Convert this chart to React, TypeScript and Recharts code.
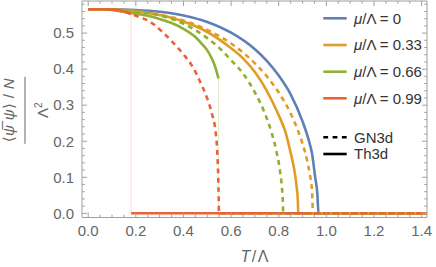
import React from "react";
import { LineChart, Line, XAxis, YAxis, Customized } from "recharts";

// ---------- data ----------
const T_BLUE = [0, 0.1, 0.2, 0.3, 0.4, 0.5, 0.6, 0.7, 0.75, 0.8, 0.85, 0.9, 0.925, 0.94, 0.953, 0.962, 0.967, 1.45];
const V_BLUE = [0.566, 0.566, 0.564, 0.559, 0.549, 0.531, 0.501, 0.455, 0.423, 0.382, 0.33, 0.255, 0.205, 0.165, 0.1, 0.055, 0, 0];

const T_ORANGE_TH = [0, 0.1, 0.2, 0.3, 0.4, 0.5, 0.6, 0.65, 0.7, 0.75, 0.8, 0.83, 0.85, 0.865, 0.875, 0.88, 0.882, 1.45];
const V_ORANGE_TH = [0.566, 0.565, 0.561, 0.55, 0.532, 0.503, 0.458, 0.43, 0.392, 0.34, 0.272, 0.222, 0.168, 0.122, 0.075, 0.038, 0, 0];

const T_ORANGE_GN = [0, 0.1, 0.2, 0.3, 0.4, 0.5, 0.6, 0.7, 0.75, 0.8, 0.85, 0.88, 0.9, 0.92, 0.93, 0.94, 0.944, 1.45];
const V_ORANGE_GN = [0.566, 0.565, 0.561, 0.551, 0.535, 0.509, 0.471, 0.416, 0.38, 0.335, 0.277, 0.231, 0.193, 0.144, 0.11, 0.06, 0, 0];

const T_GREEN_TH = [0, 0.05, 0.1, 0.15, 0.2, 0.25, 0.3, 0.35, 0.4, 0.45, 0.48, 0.5, 0.52, 0.535, 0.547];
const V_GREEN_TH = [0.566, 0.566, 0.564, 0.559, 0.554, 0.548, 0.539, 0.528, 0.512, 0.489, 0.468, 0.452, 0.428, 0.403, 0.374];
const T_GREEN_TH_JUMP = [0.547, 0.547];
const V_GREEN_TH_JUMP = [0.374, 0];
const T_GREEN_TH_LOW = [0.547, 1.45];
const V_GREEN_TH_LOW = [0, 0];

const T_GREEN_GN = [0, 0.1, 0.2, 0.3, 0.4, 0.5, 0.55, 0.6, 0.65, 0.7, 0.74, 0.77, 0.79, 0.805, 0.813, 0.817, 0.819, 1.45];
const V_GREEN_GN = [0.566, 0.565, 0.56, 0.549, 0.526, 0.486, 0.459, 0.425, 0.388, 0.335, 0.28, 0.224, 0.173, 0.119, 0.074, 0.035, 0, 0];

const T_RED_TH = [0, 0.05, 0.1, 0.13, 0.16, 0.18];
const V_RED_TH = [0.566, 0.566, 0.565, 0.563, 0.558, 0.553];
const T_RED_TH_JUMP = [0.18, 0.18];
const V_RED_TH_JUMP = [0.553, 0];
const T_RED_TH_LOW = [0.18, 1.45];
const V_RED_TH_LOW = [0, 0];

const T_RED_GN = [0, 0.05, 0.1, 0.13, 0.16, 0.18, 0.22, 0.25, 0.28, 0.31, 0.35, 0.4, 0.44, 0.47, 0.5, 0.52, 0.535, 0.542, 0.546, 0.548, 0.549, 1.45];
const V_RED_GN = [0.566, 0.566, 0.565, 0.563, 0.558, 0.553, 0.543, 0.535, 0.522, 0.504, 0.478, 0.441, 0.405, 0.365, 0.318, 0.275, 0.225, 0.17, 0.1, 0.04, 0, 0];

const MU_LABELS = ["0", "0.33", "0.66", "0.99"];
const STYLE_LABELS = ["GN3d", "Th3d"];

const X_MAJOR = [0, 0.2, 0.4, 0.6, 0.8, 1.0, 1.2, 1.4];
const X_LABELS = ["0.0", "0.2", "0.4", "0.6", "0.8", "1.0", "1.2", "1.4"];
const X_TICKS = [0, 0.05, 0.1, 0.15, 0.2, 0.25, 0.3, 0.35, 0.4, 0.45, 0.5, 0.55, 0.6, 0.65, 0.7, 0.75, 0.8, 0.85, 0.9, 0.95, 1.0, 1.05, 1.1, 1.15, 1.2, 1.25, 1.3, 1.35, 1.4];
const Y_MAJOR = [0, 0.1, 0.2, 0.3, 0.4, 0.5];
const Y_LABELS = ["0.0", "0.1", "0.2", "0.3", "0.4", "0.5"];
const Y_TICKS = [0, 0.02, 0.04, 0.06, 0.08, 0.1, 0.12, 0.14, 0.16, 0.18, 0.2, 0.22, 0.24, 0.26, 0.28, 0.3, 0.32, 0.34, 0.36, 0.38, 0.4, 0.42, 0.44, 0.46, 0.48, 0.5, 0.52, 0.54, 0.56, 0.58];

// ---------- styles ----------
const BLUE = "#5E81B5";
const ORANGE = "#E19C24";
const GREEN = "#8FB032";
const RED = "#EB6235";
const COLORS = [BLUE, ORANGE, GREEN, RED];
const FRAME = "#a0a0a0";
const LABEL = "#666666";
const FONT = "'Liberation Sans', 'DejaVu Sans', sans-serif";
const LW = 2.6;
const DASH = "5 4.3";
const MAJ = 5;
const MIN = 2.8;

const zip = (t: number[], v: number[]) => t.map((x, i) => ({ t: x, v: v[i] }));

const majorIndex = (list: number[], v: number) => list.findIndex((m) => Math.abs(m - v) < 1e-6);

const BottomTick = (p: any) => {
  const { x, y, payload } = p;
  const i = majorIndex(X_MAJOR, payload.value);
  return (
    <g>
      <line x1={x} x2={x} y1={y} y2={y - (i >= 0 ? MAJ : MIN)} stroke={FRAME} strokeWidth={1} />
      {i >= 0 && (
        <text x={x} y={y + 18.5} textAnchor="middle" fontSize={15} fontFamily={FONT} fill={LABEL}>
          {X_LABELS[i]}
        </text>
      )}
    </g>
  );
};
const TopTick = (p: any) => {
  const { x, y, payload } = p;
  const i = majorIndex(X_MAJOR, payload.value);
  return <line x1={x} x2={x} y1={y} y2={y + (i >= 0 ? MAJ : MIN)} stroke={FRAME} strokeWidth={1} />;
};
const LeftTick = (p: any) => {
  const { x, y, payload } = p;
  const i = majorIndex(Y_MAJOR, payload.value);
  return (
    <g>
      <line x1={x} x2={x + (i >= 0 ? MAJ : MIN)} y1={y} y2={y} stroke={FRAME} strokeWidth={1} />
      {i >= 0 && (
        <text x={x - 8} y={y + 5.3} textAnchor="end" fontSize={15} fontFamily={FONT} fill={LABEL}>
          {Y_LABELS[i]}
        </text>
      )}
    </g>
  );
};
const RightTick = (p: any) => {
  const { x, y, payload } = p;
  const i = majorIndex(Y_MAJOR, payload.value);
  return <line x1={x} x2={x - (i >= 0 ? MAJ : MIN)} y1={y} y2={y} stroke={FRAME} strokeWidth={1} />;
};

const Decorations = () => {
  const rows = [18.3, 45, 71.7, 98.3];
  const rows2 = [137.3, 154];
  return (
    <g fontFamily={FONT}>
      {MU_LABELS.map((m, i) => (
        <g key={m}>
          <line x1={323.3} x2={346.7} y1={rows[i]} y2={rows[i]} stroke={COLORS[i]} strokeWidth={LW} />
          <text x={354} y={rows[i] + 5.2} fontSize={15} fill="#333">
            <tspan fontStyle="italic">μ</tspan>
            <tspan>/Λ = {m}</tspan>
          </text>
        </g>
      ))}
      {STYLE_LABELS.map((s, i) => (
        <g key={s}>
          <line
            x1={323.3}
            x2={346.7}
            y1={rows2[i]}
            y2={rows2[i]}
            stroke="#000"
            strokeWidth={LW}
            strokeDasharray={i === 0 ? "4.8 4.5" : undefined}
          />
          <text x={354} y={rows2[i] + 5.2} fontSize={15} fill="#333">
            {s}
          </text>
        </g>
      ))}
      <text x={254.5} y={261.5} textAnchor="middle" fontSize={16} fill={LABEL}>
        <tspan fontStyle="italic">T</tspan>
        <tspan dx={1.5}>/</tspan>
        <tspan dx={1.5}>Λ</tspan>
      </text>
      <g transform="translate(25,110.3) rotate(-90)" fill={LABEL}>
        <text x={0} y={-11} textAnchor="middle" fontSize={15} textLength={64} lengthAdjust="spacing">
          <tspan>⟨</tspan>
          <tspan fontStyle="italic">ψ̅</tspan>
          <tspan> </tspan>
          <tspan fontStyle="italic">ψ</tspan>
          <tspan>⟩ / </tspan>
          <tspan fontStyle="italic">N</tspan>
        </text>
        <line x1={-33.5} x2={33.5} y1={0} y2={0} stroke={LABEL} strokeWidth={1} />
        <text x={0} y={23} textAnchor="middle" fontSize={15}>
          <tspan>Λ</tspan>
          <tspan fontSize={10} dy={-6}>2</tspan>
        </text>
      </g>
    </g>
  );
};

export default function App() {
  const common = { xAxisId: "b", yAxisId: "l", dataKey: "v", dot: false, isAnimationActive: false, type: "monotone" as const };
  const axisCommon = { interval: 0 as const, tickSize: 0, tickMargin: 0, tickLine: false, axisLine: { stroke: FRAME }, allowDataOverflow: true, type: "number" as const };
  return (
    <div style={{ position: "absolute", left: 0, top: 0, width: 436, height: 267, background: "#fff" }}>
      <LineChart width={436} height={267} margin={{ top: 0, right: 8, bottom: 48.5, left: 81 }}>
        <XAxis {...axisCommon} xAxisId="b" dataKey="t" domain={[-0.026, 1.4225]} ticks={X_TICKS} tick={<BottomTick />} height={1} />
        <XAxis {...axisCommon} xAxisId="t" orientation="top" dataKey="t" domain={[-0.026, 1.4225]} ticks={X_TICKS} tick={<TopTick />} height={1} />
        <YAxis {...axisCommon} yAxisId="l" domain={[-0.0116, 0.589]} ticks={Y_TICKS} tick={<LeftTick />} width={1} />
        <YAxis {...axisCommon} yAxisId="r" orientation="right" domain={[-0.0116, 0.589]} ticks={Y_TICKS} tick={<RightTick />} width={1} />

        <Line {...common} data={zip(T_RED_TH_JUMP, V_RED_TH_JUMP)} stroke="#fbdcd3" strokeWidth={1} type="linear" />
        <Line {...common} data={zip(T_GREEN_TH_JUMP, V_GREEN_TH_JUMP)} stroke="#e3efcf" strokeWidth={1} type="linear" />

        <Line {...common} data={zip(T_BLUE, V_BLUE)} stroke={BLUE} strokeWidth={LW} />
        <Line {...common} data={zip(T_ORANGE_TH, V_ORANGE_TH)} stroke={ORANGE} strokeWidth={LW} />
        <Line {...common} data={zip(T_GREEN_TH, V_GREEN_TH)} stroke={GREEN} strokeWidth={LW} />
        <Line {...common} data={zip(T_GREEN_TH_LOW, V_GREEN_TH_LOW)} stroke={GREEN} strokeWidth={LW} type="linear" />
        <Line {...common} data={zip(T_RED_TH, V_RED_TH)} stroke={RED} strokeWidth={LW} />
        <Line {...common} data={zip(T_RED_TH_LOW, V_RED_TH_LOW)} stroke={RED} strokeWidth={LW} type="linear" />

        <Line {...common} data={zip(T_ORANGE_GN, V_ORANGE_GN)} stroke={ORANGE} strokeWidth={LW} strokeDasharray={DASH} />
        <Line {...common} data={zip(T_GREEN_GN, V_GREEN_GN)} stroke={GREEN} strokeWidth={LW} strokeDasharray={DASH} />
        <Line {...common} data={zip(T_RED_GN, V_RED_GN)} stroke={RED} strokeWidth={LW} strokeDasharray={DASH} />

        <Customized component={Decorations} />
      </LineChart>
    </div>
  );
}
